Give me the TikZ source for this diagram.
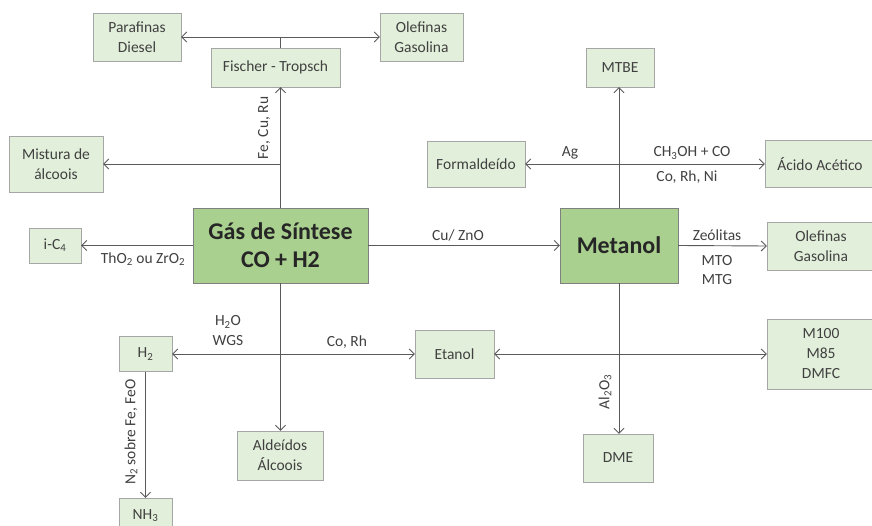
\documentclass[tikz,border=0pt]{standalone}
\usepackage{fontspec}
\setmainfont{Carlito}
\usetikzlibrary{arrows.meta}

\definecolor{boxfill}{HTML}{E2EFDA}
\definecolor{mainfill}{HTML}{A9D08E}
\definecolor{boxline}{HTML}{A6A6A6}
\definecolor{mainline}{HTML}{808080}
\definecolor{txt}{HTML}{404040}
\definecolor{wirecol}{HTML}{5A5A5A}

\tikzset{
  box/.style={draw=boxline, fill=boxfill, text=txt, align=center, inner sep=0pt,
    font=\fontsize{15.5}{20}\selectfont},
  mainbox/.style={draw=mainline, fill=mainfill, text=black!85, align=center, inner sep=0pt,
    font=\fontsize{24}{28}\selectfont\bfseries},
  wire/.style={draw=wirecol, line width=0.9pt},
  arr/.style={wire, -{Straight Barb[length=5pt,width=10pt]}},
  darr/.style={wire, {Straight Barb[length=5pt,width=10pt]}-{Straight Barb[length=5pt,width=10pt]}},
  lbl/.style={text=txt, inner sep=0pt, font=\fontsize{15.5}{20}\selectfont},
}

\begin{document}
\begin{tikzpicture}[x=1pt, y=-1pt]
    \useasboundingbox (0,0) rectangle (872,526);

    % Main boxes
    \node[mainbox, minimum width=175, minimum height=75] (gas) at (280.5,245.5) {Gás de Síntese\\CO + H2};
    \node[mainbox, minimum width=118, minimum height=75] (met) at (619,245.5) {Metanol};

    % Products of the synthesis gas
    \node[box, minimum width=88, minimum height=48] (par) at (137,37) {Parafinas\\Diesel};
    \node[box, minimum width=83, minimum height=48] (olt) at (421.5,37) {Olefinas\\Gasolina};
    \node[box, minimum width=129, minimum height=39] (ft) at (275.5,67.5) {Fischer - Tropsch};
    \node[box, minimum width=94, minimum height=56] (mist) at (56,164) {Mistura de\\álcoois};
    \node[box, minimum width=52, minimum height=35] (ic4) at (55,245.5) {i-C\textsubscript{4}};
    \node[box, minimum width=53, minimum height=35] (h2) at (145.5,354) {H\textsubscript{2}};
    \node[box, minimum width=53, minimum height=35] (nh3) at (145.5,515.5) {NH\textsubscript{3}};
    \node[box, minimum width=86, minimum height=49] (ald) at (280,455.5) {Aldeídos\\Álcoois};
    \node[box, minimum width=79, minimum height=48] (eta) at (454.5,354) {Etanol};

    % Products of methanol
    \node[box, minimum width=68, minimum height=39] (mtbe) at (620,67.5) {MTBE};
    \node[box, minimum width=98, minimum height=46] (form) at (476,164) {Formaldeído};
    \node[box, minimum width=110, minimum height=47] (acid) at (820,164) {Ácido Acético};
    \node[box, minimum width=108, minimum height=48] (olr) at (821,246) {Olefinas\\Gasolina};
    \node[box, minimum width=108, minimum height=70] (m100) at (821,354) {M100\\M85\\DMFC};
    \node[box, minimum width=70, minimum height=48] (dme) at (618,458) {DME};

    % Connectors from the synthesis gas
    \draw[arr] (gas.north) -- (gas.north |- ft.south);
    \draw[wire] (gas.north |- ft.north) -- (gas.north |- par.east);
    \draw[darr] (par.east) -- (olt.west);
    \draw[arr] (gas.north |- mist.east) -- (mist.east);
    \draw[arr] (gas.west) -- (ic4.east);
    \draw[arr] (gas.east) -- (met.west);
    \draw[arr] (gas.south) -- (gas.south |- ald.north);
    \draw[darr] (h2.east) -- (eta.west);
    \draw[arr] (h2.south) -- (nh3.north);

    % Connectors from methanol
    \draw[arr] (met.north) -- (met.north |- mtbe.south);
    \draw[darr] (form.east) -- (acid.west);
    \draw[arr] (met.east) -- (olr.west);
    \draw[arr] (met.south) -- (met.south |- dme.north);
    \draw[darr] (eta.east) -- (m100.west);

    % Catalysts and routes
    \node[lbl, rotate=90] (lfe) at (264,128) {Fe, Cu, Ru};
    \node[lbl] (ltho) at (143,259) {ThO\textsubscript{2} ou ZrO\textsubscript{2}};
    \node[lbl] (lcu) at (458,235) {Cu/ ZnO};
    \node[lbl, align=center] (lwgs) at (228,331) {H\textsubscript{2}O\\WGS};
    \node[lbl] (lcorh) at (347,342) {Co, Rh};
    \node[lbl, rotate=90] (ln2) at (131,432) {N\textsubscript{2} sobre Fe, FeO};
    \node[lbl] (lag) at (570,153) {Ag};
    \node[lbl] (lch) at (692,153) {CH\textsubscript{3}OH + CO};
    \node[lbl] (lcorhni) at (687,177) {Co, Rh, Ni};
    \node[lbl] (lzeo) at (717,235) {Zeólitas};
    \node[lbl, align=center, font=\fontsize{15.5}{18.5}\selectfont] (lmto) at (717,270) {MTO\\MTG};
    \node[lbl, rotate=90] (lal) at (605,392) {Al\textsubscript{2}O\textsubscript{3}};
\end{tikzpicture}
\end{document}
